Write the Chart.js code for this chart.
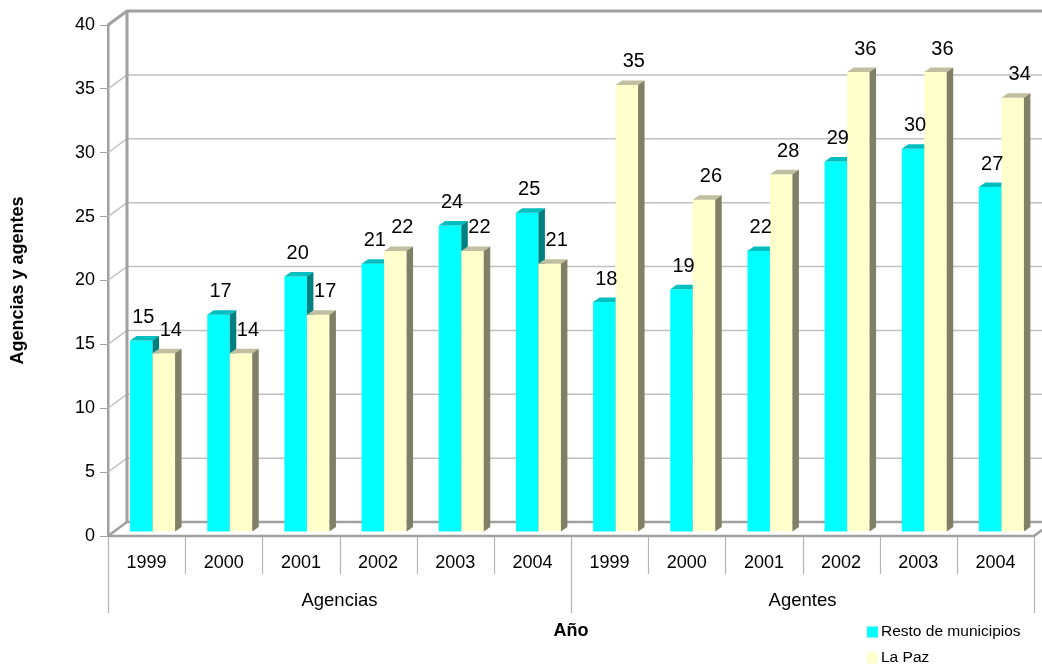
<!DOCTYPE html>
<html>
<head>
<meta charset="utf-8">
<script src="https://cdn.jsdelivr.net/npm/chart.js@4.4.1/dist/chart.umd.min.js"></script>
<style>
  html, body { margin: 0; padding: 0; background: #ffffff; }
  #wrap { width: 1042px; height: 665px; position: relative; }
</style>
</head>
<body>
<div id="wrap"><canvas id="chart"></canvas></div>
<script>
// Categories: years, grouped by indicator
const years = ['1999', '2000', '2001', '2002', '2003', '2004', '1999', '2000', '2001', '2002', '2003', '2004'];
const groups = ['Agencias', 'Agentes'];
const groupSize = 6;

// Series values
const seriesNames = ['Resto de municipios', 'La Paz'];
const restoMunicipios = [15, 17, 20, 21, 24, 25, 18, 19, 22, 29, 30, 27];
const laPaz = [14, 14, 17, 22, 22, 21, 35, 26, 28, 36, 36, 34];

// Value axis ticks
const yMin = 0;
const yMax = 40;
const yStep = 5;

// Face colours for the bars: front, top, side
const faces = [
  { front: '#00FFFF', top: '#00BEBE', side: '#008080' },
  { front: '#FFFFCC', top: '#C0C0A0', side: '#808066' }
];

const FONT = '"Liberation Sans", Arial, sans-serif';
const WALL = { dx: 19, dy: -14 };      // depth of the back wall
const BAR_SHIFT = { dx: 6, dy: -4 };  // bars sit part-way into the depth
const BAR_DEPTH = { dx: 6.5, dy: -4.5 };
const LABEL_DX = [2, 7];

function line(ctx, pts, color, width) {
  ctx.beginPath();
  ctx.moveTo(pts[0][0], pts[0][1]);
  for (let i = 1; i < pts.length; i++) ctx.lineTo(pts[i][0], pts[i][1]);
  ctx.strokeStyle = color;
  ctx.lineWidth = width;
  ctx.stroke();
}

function poly(ctx, pts, fill) {
  ctx.beginPath();
  ctx.moveTo(pts[0][0], pts[0][1]);
  for (let i = 1; i < pts.length; i++) ctx.lineTo(pts[i][0], pts[i][1]);
  ctx.closePath();
  ctx.fillStyle = fill;
  ctx.fill();
}

// Draws the walls, the floor and the bars as 3D blocks
const bars3d = {
  id: 'bars3d',
  beforeDatasetsDraw(chart) {
    const { ctx, chartArea } = chart;
    const { left, right, top, bottom } = chartArea;
    const y = chart.scales.y;
    const W = chart.width;
    ctx.save();

    // back wall grid lines with their diagonal run from the front axis
    for (let v = yMin + yStep; v < yMax; v += yStep) {
      const py = y.getPixelForValue(v);
      line(ctx, [[left, py], [left + WALL.dx, py + WALL.dy], [W + 5, py + WALL.dy]], '#c0c0c0', 1.5);
    }
    // wall edges
    const wallColor = '#a0a0a0';
    line(ctx, [[left, top], [left + WALL.dx, top + WALL.dy], [W + 5, top + WALL.dy]], wallColor, 3);
    line(ctx, [[left + WALL.dx, top + WALL.dy], [left + WALL.dx, bottom + WALL.dy]], wallColor, 3);
    // floor
    line(ctx, [[left, bottom], [left + WALL.dx, bottom + WALL.dy], [W + 5, bottom + WALL.dy]], wallColor, 2.5);
    line(ctx, [[left, bottom], [right, bottom], [right + WALL.dx, bottom + WALL.dy]], wallColor, 2.5);

    // bars: front, top and side faces, category by category
    const metas = chart.data.datasets.map((d, i) => chart.getDatasetMeta(i));
    const n = chart.data.labels.length;
    for (let i = 0; i < n; i++) {
      metas.forEach((meta, d) => {
        const el = meta.data[i];
        const x0 = el.x - el.width / 2 + BAR_SHIFT.dx;
        const x1 = el.x + el.width / 2 + BAR_SHIFT.dx;
        const yt = el.y + BAR_SHIFT.dy;
        const yb = el.base + BAR_SHIFT.dy;
        const f = faces[d];
        poly(ctx, [[x0, yt], [x1, yt], [x1, yb], [x0, yb]], f.front);
        poly(ctx, [[x0, yt], [x1, yt], [x1 + BAR_DEPTH.dx, yt + BAR_DEPTH.dy], [x0 + BAR_DEPTH.dx, yt + BAR_DEPTH.dy]], f.top);
        poly(ctx, [[x1, yt], [x1 + BAR_DEPTH.dx, yt + BAR_DEPTH.dy], [x1 + BAR_DEPTH.dx, yb + BAR_DEPTH.dy], [x1, yb]], f.side);
      });
    }
    ctx.restore();
    return false;
  },
  afterDraw(chart) {
    const { ctx, chartArea } = chart;
    const { left, right, bottom } = chartArea;
    const n = chart.data.labels.length;
    const catW = (right - left) / n;
    ctx.save();

    // value labels above each bar
    ctx.font = '20px ' + FONT;
    ctx.fillStyle = '#000000';
    ctx.textAlign = 'center';
    ctx.textBaseline = 'middle';
    chart.data.datasets.forEach((ds, d) => {
      chart.getDatasetMeta(d).data.forEach((el, i) => {
        ctx.fillText(String(ds.data[i]), el.x + BAR_SHIFT.dx + LABEL_DX[d], el.y + BAR_SHIFT.dy - 23);
      });
    });

    // category separators and group separators under the axis
    for (let k = 0; k <= n; k++) {
      const px = Math.round(left + k * catW) + 0.5;
      const isGroup = k % groupSize === 0;
      line(ctx, [[px, bottom + 1], [px, isGroup ? 613 : 574]], '#b4b4b4', 1.2);
    }

    // group labels
    ctx.font = '18.5px ' + FONT;
    groups.forEach((g, gi) => {
      const cx = left + (gi * groupSize + groupSize / 2) * catW;
      ctx.fillText(g, cx, 601);
    });

    // legend
    ctx.font = '15.5px ' + FONT;
    ctx.textAlign = 'left';
    seriesNames.forEach((name, d) => {
      const cy = 632 + d * 26;
      ctx.fillStyle = faces[d].front;
      ctx.fillRect(867, cy - 5.5, 11, 11);
      ctx.fillStyle = '#000000';
      ctx.fillText(name, 881, cy);
    });
    ctx.restore();
  }
};

const ctx = document.getElementById('chart').getContext('2d');
new Chart(ctx, {
  type: 'bar',
  data: {
    labels: years,
    datasets: [
      { label: seriesNames[0], data: restoMunicipios, backgroundColor: faces[0].front },
      { label: seriesNames[1], data: laPaz, backgroundColor: faces[1].front }
    ]
  },
  options: {
    responsive: true,
    maintainAspectRatio: false,
    animation: false,
    devicePixelRatio: 1,
    layout: { padding: { top: 25, right: 8, bottom: 0, left: 0 } },
    datasets: { bar: { categoryPercentage: 0.583, barPercentage: 1 } },
    plugins: { legend: { display: false }, tooltip: { enabled: false } },
    scales: {
      x: {
        type: 'category',
        offset: true,
        grid: { display: false },
        border: { display: false },
        ticks: { font: { size: 18, family: FONT }, color: '#000000', padding: 8, maxRotation: 0, autoSkip: false },
        title: { display: true, text: 'Año', font: { size: 18, weight: 'bold', family: FONT }, color: '#000000', padding: { top: 0, bottom: 23 } },
        afterFit(scale) { scale.height = 129; }
      },
      y: {
        min: yMin,
        max: yMax,
        ticks: { stepSize: yStep, font: { size: 18, family: FONT }, color: '#000000', padding: 5 },
        grid: { drawOnChartArea: false, drawTicks: true, tickLength: 8, color: '#a0a0a0', lineWidth: 1 },
        border: { display: true, color: '#a0a0a0', width: 2.5 },
        title: { display: true, text: 'Agencias y agentes', font: { size: 18, weight: 'bold', family: FONT }, color: '#000000', padding: { top: 7, bottom: 0 } },
        afterFit(scale) { scale.width = 108; }
      }
    }
  },
  plugins: [bars3d]
});
</script>
</body>
</html>
